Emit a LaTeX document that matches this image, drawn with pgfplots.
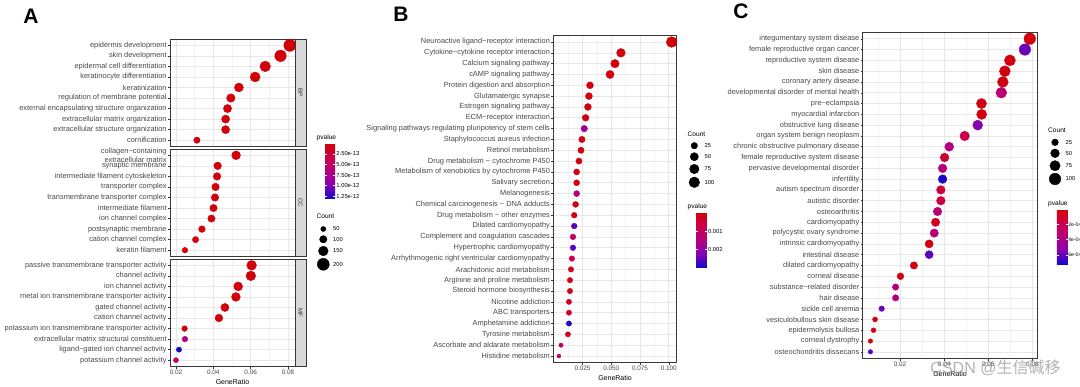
\documentclass[border=0pt]{standalone}
\usepackage{pgfplots}
\pgfplotsset{compat=1.18}
\usepackage{pgfplotstable}
\usepackage{fontspec}
\setmainfont{Liberation Sans}
\newfontfamily\cjk{Noto Sans CJK SC}

\pgfplotstableread{
y ratio count p
1 0.0810 203 1e-16
2 0.0760 190 1e-16
3 0.0678 170 1e-16
4 0.0624 156 1e-16
5 0.0537 134 1e-16
6 0.0494 124 1e-16
7 0.0476 119 1e-16
8 0.0466 117 1e-16
9 0.0466 117 1e-16
10 0.0312 78 2e-14
}\tabBP
\pgfplotstableread{
y ratio count p
1 0.0522 131 1e-16
2 0.0423 106 1e-15
3 0.0420 105 1e-16
4 0.0412 103 1e-15
5 0.0409 102 1e-15
6 0.0401 100 1e-16
7 0.0390 98 1e-15
8 0.0339 85 2e-15
9 0.0305 76 2e-15
10 0.0248 62 1e-14
}\tabCC
\pgfplotstableread{
y ratio count p
1 0.0605 151 1e-15
2 0.0601 150 1e-15
3 0.0533 133 1e-15
4 0.0521 130 1e-15
5 0.0462 116 1e-15
6 0.0430 108 1e-15
7 0.0246 62 2e-14
8 0.0248 62 6.5e-13
9 0.0216 54 1.28e-12
10 0.0200 50 5e-13
}\tabMF
\pgfplotstableread{
y ratio count p
1 0.1025 104 1e-6
2 0.0584 59 1e-6
3 0.0532 54 2e-6
4 0.0489 49 2e-6
5 0.0315 31 1e-5
6 0.0306 31 2e-5
7 0.0297 30 2e-5
8 0.0277 28 3e-5
9 0.0265 26 0.0018
10 0.0245 24 5e-5
11 0.0237 23 5e-5
12 0.0219 22 6e-5
13 0.0199 20 8e-5
14 0.0199 20 1e-4
15 0.0199 20 0.0015
16 0.0190 19 1e-4
17 0.0178 17 1.5e-4
18 0.0178 17 0.0025
19 0.0167 16 0.0010
20 0.0167 16 0.0025
21 0.0158 15 0.0008
22 0.0150 14 2e-4
23 0.0141 14 2e-4
24 0.0141 14 2e-4
25 0.0132 13 3e-4
26 0.0132 13 3e-4
27 0.0132 13 0.0029
28 0.0123 12 3e-4
29 0.0063 6 0.0010
30 0.0045 4 0.0013
}\tabB
\pgfplotstableread{
y ratio count p
1 0.0788 100 1e-5
2 0.0766 97 5.8e-4
3 0.0698 89 2e-5
4 0.0675 86 1e-5
5 0.0666 85 2e-5
6 0.0659 84 3.2e-4
7 0.0569 72 1e-5
8 0.0570 72 1e-5
9 0.0552 70 5.4e-4
10 0.0493 63 1.8e-4
11 0.0423 54 3.6e-4
12 0.0402 51 1.1e-4
13 0.0393 50 3.6e-4
14 0.0393 50 7.1e-4
15 0.0385 49 1.4e-4
16 0.0385 49 1.4e-4
17 0.0370 47 3.3e-4
18 0.0361 46 7e-5
19 0.0355 45 3.3e-4
20 0.0332 42 3e-5
21 0.0332 42 6.1e-4
22 0.0263 33 1e-5
23 0.0202 26 2e-5
24 0.0180 23 3.6e-4
25 0.0180 23 3.6e-4
26 0.0117 15 5.8e-4
27 0.0087 11 2e-5
28 0.0080 10 2e-5
29 0.0066 8 1e-5
30 0.0066 8 6.1e-4
}\tabC

\pgfplotsset{
  colormap={gg}{rgb255=(210,0,10) rgb255=(205,0,75) rgb255=(180,0,125) rgb255=(135,0,180) rgb255=(20,10,200)},
  gg/.style={
    scale only axis, anchor=north west, y dir=reverse,
    ymin=0.4, scaled x ticks=false,
    xmajorgrids, ymajorgrids, xminorgrids,
    major grid style={draw=black!9, line width=0.6pt},
    minor grid style={draw=black!4.5, line width=0.35pt},
    axis line style={draw=black!78, line width=0.55pt},
    tick align=outside, tick pos=left,
    major tick length=2.2pt, minor tick length=0pt,
    tick style={draw=black!78, line width=0.5pt},
    yticklabel style={font=\fontsize{7.4}{8.2}\selectfont, text=black!72, align=right, inner sep=1pt},
    xticklabel style={font=\fontsize{6.4}{7}\selectfont, text=black!72, inner sep=1.5pt},
    xlabel style={font=\fontsize{7}{8}\selectfont, inner sep=1pt, yshift=-2pt},
    colormap name=gg, point meta min=0,
  },
  bub/.style={scatter, only marks, mark=*, scatter/use mapped color={draw=mapped color, fill=mapped color}},
  cbar/.style={scale only axis, anchor=north west, hide axis, xmin=0, xmax=1, ymin=0, ymax=1,
    colormap name=gg, point meta min=0, colorbar},
  cbarstyle/.style={at={(parent axis.north west)}, anchor=north west, y dir=reverse,
    yticklabel pos=right, ytick pos=both, tick align=inside, major tick length=2pt,
    tick style={draw=white, line width=0.5pt}, axis line style={draw=none},
    yticklabel style={font=\fontsize{5.8}{6.5}\selectfont, text=black, inner sep=1pt}},
}

\begin{document}
\begin{tikzpicture}
% ---------------- Panel A ----------------
\begin{axis}[gg, at={(170pt,347pt)}, width=125pt, height=107.5pt,
  xmin=0.01679, xmax=0.08375, ymax=10.6,
  xtick={0.02,0.04,0.06,0.08}, xticklabels={}, xtick style={draw=none},
  minor xtick={0.03,0.05,0.07},
  ytick={1,...,10},
  yticklabels={epidermis development, skin development, epidermal cell differentiation, keratinocyte differentiation, keratinization, regulation of membrane potential, external encapsulating structure organization, extracellular matrix organization, extracellular structure organization, cornification},
  point meta max=13]
\addplot[bub, point meta={\thisrow{p}*1e13}, visualization depends on={\thisrow{count}\as\cnt},
  scatter/@pre marker code/.append style={/tikz/mark size={1.4+0.023*\cnt}}] table[x=ratio,y=y] {\tabBP};
\end{axis}
\begin{axis}[gg, at={(170pt,237pt)}, width=125pt, height=107.5pt,
  xmin=0.01679, xmax=0.08375, ymax=10.6,
  xtick={0.02,0.04,0.06,0.08}, xticklabels={}, xtick style={draw=none},
  minor xtick={0.03,0.05,0.07},
  ytick={1,...,10},
  yticklabels={{collagen−containing\\extracellular matrix}, synaptic membrane, intermediate filament cytoskeleton, transporter complex, transmembrane transporter complex, intermediate filament, ion channel complex, postsynaptic membrane, cation channel complex, keratin filament},
  point meta max=13]
\addplot[bub, point meta={\thisrow{p}*1e13}, visualization depends on={\thisrow{count}\as\cnt},
  scatter/@pre marker code/.append style={/tikz/mark size={1.4+0.023*\cnt}}] table[x=ratio,y=y] {\tabCC};
\end{axis}
\begin{axis}[gg, at={(170pt,127pt)}, width=125pt, height=107.5pt,
  xmin=0.01679, xmax=0.08375, ymax=10.6,
  xtick={0.02,0.04,0.06,0.08}, xticklabels={0.02,0.04,0.06,0.08},
  minor xtick={0.03,0.05,0.07},
  xlabel={GeneRatio},
  ytick={1,...,10},
  yticklabels={passive transmembrane transporter activity, channel activity, ion channel activity, metal ion transmembrane transporter activity, gated channel activity, cation channel activity, potassium ion transmembrane transporter activity, extracellular matrix structural constituent, ligand−gated ion channel activity, potassium channel activity},
  point meta max=13]
\addplot[bub, point meta={\thisrow{p}*1e13}, visualization depends on={\thisrow{count}\as\cnt},
  scatter/@pre marker code/.append style={/tikz/mark size={1.4+0.023*\cnt}}] table[x=ratio,y=y] {\tabMF};
\end{axis}
% strips
\draw[fill=black!15, draw=black!78, line width=0.55pt] (295pt,347pt) rectangle (306pt,239.5pt);
\draw[fill=black!15, draw=black!78, line width=0.55pt] (295pt,237pt) rectangle (306pt,129.5pt);
\draw[fill=black!15, draw=black!78, line width=0.55pt] (295pt,127pt) rectangle (306pt,19.5pt);
\node[rotate=-90, font=\fontsize{6}{6}\selectfont, text=black!85] at (300.5pt,293.25pt) {BP};
\node[rotate=-90, font=\fontsize{6}{6}\selectfont, text=black!85] at (300.5pt,183.25pt) {CC};
\node[rotate=-90, font=\fontsize{6}{6}\selectfont, text=black!85] at (300.5pt,73.25pt) {MF};
% colorbar A
\begin{axis}[cbar, at={(316.7pt,242.7pt)}, width=10pt, height=55pt, point meta max=13,
  colorbar style={cbarstyle, width=10pt, height=55pt, ytick={2.5,5,7.5,10,12.5},
  yticklabels={2.50e-13,5.00e-13,7.50e-13,1.00e-12,1.25e-12}}]
\addplot[draw=none] coordinates {(0.5,0.5)};
\end{axis}

% ---------------- Panel B ----------------
\begin{axis}[gg, at={(553.3pt,350.5pt)}, width=123.4pt, height=327pt,
  xmin=-0.0004, xmax=0.1069, ymax=30.6,
  xtick={0.025,0.05,0.075,0.1}, xticklabels={0.025,0.050,0.075,0.100},
  minor xtick={0.0125,0.0375,0.0625,0.0875},
  xlabel={GeneRatio},
  ytick={1,...,30},
  yticklabels={Neuroactive ligand−receptor interaction, Cytokine−cytokine receptor interaction, Calcium signaling pathway, cAMP signaling pathway, Protein digestion and absorption, Glutamatergic synapse, Estrogen signaling pathway, ECM−receptor interaction, Signaling pathways regulating pluripotency of stem cells, Staphylococcus aureus infection, Retinol metabolism, Drug metabolism − cytochrome P450, Metabolism of xenobiotics by cytochrome P450, Salivary secretion, Melanogenesis, Chemical carcinogenesis − DNA adducts, Drug metabolism − other enzymes, Dilated cardiomyopathy, Complement and coagulation cascades, Hypertrophic cardiomyopathy, Arrhythmogenic right ventricular cardiomyopathy, Arachidonic acid metabolism, Arginine and proline metabolism, Steroid hormone biosynthesis, Nicotine addiction, ABC transporters, Amphetamine addiction, Tyrosine metabolism, Ascorbate and aldarate metabolism, Histidine metabolism},
  point meta max=2.95]
\addplot[bub, point meta={\thisrow{p}*1000}, visualization depends on={\thisrow{count}\as\cnt},
  scatter/@pre marker code/.append style={/tikz/mark size={1.175+0.4125*sqrt(\cnt)}}] table[x=ratio,y=y] {\tabB};
\end{axis}
\begin{axis}[cbar, at={(687.7pt,173.3pt)}, width=10.6pt, height=54.6pt, point meta max=2.95,
  colorbar style={cbarstyle, width=10.6pt, height=54.6pt, ytick={1,2},
  yticklabels={0.001,0.002}}]
\addplot[draw=none] coordinates {(0.5,0.5)};
\end{axis}

% ---------------- Panel C ----------------
\begin{axis}[gg, at={(862.7pt,353.7pt)}, width=174.6pt, height=326pt,
  xmin=0.0031, xmax=0.0822, ymax=30.6,
  xtick={0.02,0.04,0.06,0.08}, xticklabels={0.02,0.04,0.06,0.08},
  minor xtick={0.01,0.03,0.05,0.07},
  xlabel={GeneRatio},
  ytick={1,...,30},
  yticklabels={integumentary system disease, female reproductive organ cancer, reproductive system disease, skin disease, coronary artery disease, developmental disorder of mental health, pre−eclampsia, myocardial infarction, obstructive lung disease, organ system benign neoplasm, chronic obstructive pulmonary disease, female reproductive system disease, pervasive developmental disorder, infertility, autism spectrum disorder, autistic disorder, osteoarthritis, cardiomyopathy, polycystic ovary syndrome, intrinsic cardiomyopathy, intestinal disease, dilated cardiomyopathy, corneal disease, substance−related disorder, hair disease, sickle cell anemia, vesiculobullous skin disease, epidermolysis bullosa, corneal dystrophy, osteochondritis dissecans},
  point meta max=7.2]
\addplot[bub, point meta={\thisrow{p}*10000}, visualization depends on={\thisrow{count}\as\cnt},
  scatter/@pre marker code/.append style={/tikz/mark size={0.87+0.493*sqrt(\cnt)}}] table[x=ratio,y=y] {\tabC};
\end{axis}
\begin{axis}[cbar, at={(1048.3pt,176.7pt)}, width=11pt, height=54.7pt, point meta max=7.2,
  colorbar style={cbarstyle, width=11pt, height=54.7pt, ytick={2,4,6},
  yticklabels={2e-04,4e-04,6e-04}, yticklabel style={font=\fontsize{5.1}{6}\selectfont, inner sep=0.3pt}}]
\addplot[draw=none] coordinates {(0.5,0.5)};
\end{axis}

% ---------------- canvas: legend keys ----------------
\begin{axis}[at={(0pt,0pt)}, anchor=south west, scale only axis, width=1080pt, height=386pt,
  xmin=0, xmax=1080, ymin=0, ymax=386, y dir=reverse, hide axis, clip=false]
\addplot[only marks, mark=*, black, mark size=2.55] coordinates {(323.3,229)};
\addplot[only marks, mark=*, black, mark size=3.7] coordinates {(323.3,239.3)};
\addplot[only marks, mark=*, black, mark size=4.85] coordinates {(323.3,251)};
\addplot[only marks, mark=*, black, mark size=6.0] coordinates {(323.3,264.3)};
\addplot[only marks, mark=*, black, mark size=3.24] coordinates {(694.3,145.7)};
\addplot[only marks, mark=*, black, mark size=4.09] coordinates {(694.3,156.7)};
\addplot[only marks, mark=*, black, mark size=4.75] coordinates {(694.3,169)};
\addplot[only marks, mark=*, black, mark size=5.3] coordinates {(694.3,182.3)};
\addplot[only marks, mark=*, black, mark size=3.34] coordinates {(1055,142.3)};
\addplot[only marks, mark=*, black, mark size=4.36] coordinates {(1055,153.3)};
\addplot[only marks, mark=*, black, mark size=5.14] coordinates {(1055,165.7)};
\addplot[only marks, mark=*, black, mark size=5.8] coordinates {(1055,179)};
\end{axis}

\tikzset{lt/.style={anchor=west, inner sep=0pt, font=\fontsize{6.6}{7}\selectfont},
         ll/.style={anchor=west, inner sep=0pt, font=\fontsize{5.8}{6.5}\selectfont}}
\node[lt] at (316.5pt,248.5pt) {pvalue};
\node[lt] at (316.5pt,170pt) {Count};
\node[ll] at (333pt,157pt) {50};
\node[ll] at (333pt,146.7pt) {100};
\node[ll] at (333pt,135pt) {150};
\node[ll] at (333pt,121.7pt) {200};

\node[lt] at (687.5pt,252pt) {Count};
\node[ll] at (704.5pt,240.3pt) {25};
\node[ll] at (704.5pt,229.3pt) {50};
\node[ll] at (704.5pt,217pt) {75};
\node[ll] at (704.5pt,203.7pt) {100};
\node[lt] at (687.5pt,179.3pt) {pvalue};

\node[lt] at (1048pt,256pt) {Count};
\node[ll] at (1065.5pt,243.7pt) {25};
\node[ll] at (1065.5pt,232.7pt) {50};
\node[ll] at (1065.5pt,220.3pt) {75};
\node[ll] at (1065.5pt,207pt) {100};
\node[lt] at (1048pt,182.7pt) {pvalue};

\node[font=\fontsize{21}{21}\selectfont\bfseries, inner sep=0pt] at (31pt,369.5pt) {A};
\node[font=\fontsize{21}{21}\selectfont\bfseries, inner sep=0pt] at (401pt,371.5pt) {B};
\node[font=\fontsize{21}{21}\selectfont\bfseries, inner sep=0pt] at (741pt,374.5pt) {C};

\node[font=\fontsize{16}{16}\selectfont, text=black!40, opacity=0.75, inner sep=0pt] at (995.5pt,18pt) {CSDN @{\cjk 生信碱移}};

\pgfresetboundingbox
\path[use as bounding box] (0,0) rectangle (1080pt,386pt);
\end{tikzpicture}
\end{document}
